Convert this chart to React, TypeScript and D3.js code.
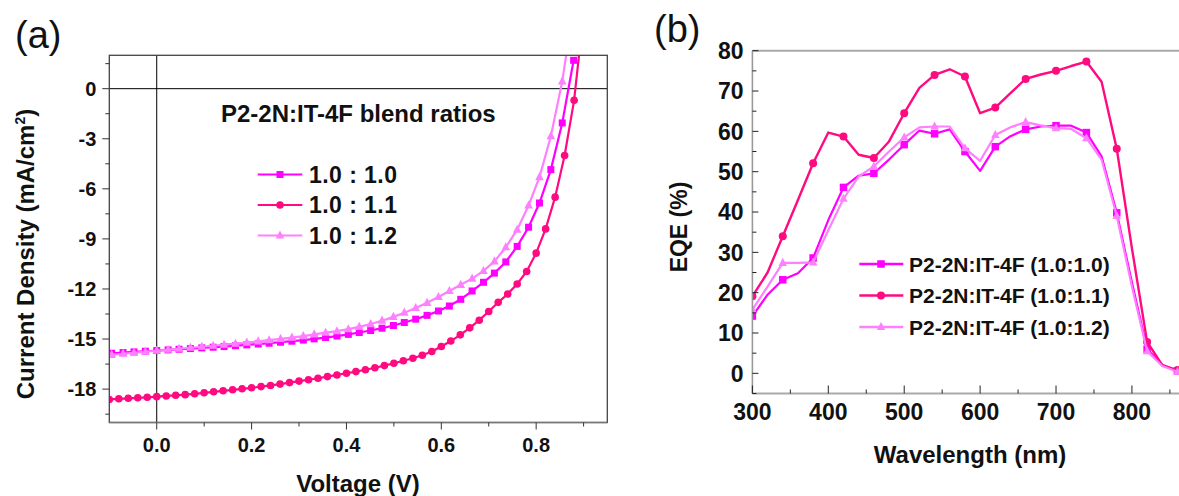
import React from "react";
import * as d3 from "d3";

// ---------------- Panel (a): J–V curves ----------------
const V_11 = [-0.10,-0.08,-0.06,-0.04,-0.02,0.00,0.02,0.04,0.06,0.08,0.10,0.12,0.14,0.16,0.18,0.20,0.22,0.24,0.26,0.28,0.30,0.32,0.34,0.36,0.38,0.40,0.42,0.44,0.46,0.48,0.50,0.52,0.54,0.56,0.58,0.60,0.62,0.64,0.66,0.68,0.70,0.72,0.74,0.76,0.78,0.80,0.82,0.84,0.86,0.88,0.90];
const J_11 = [-18.62,-18.58,-18.55,-18.52,-18.49,-18.45,-18.41,-18.37,-18.33,-18.28,-18.22,-18.16,-18.10,-18.04,-17.98,-17.92,-17.85,-17.78,-17.70,-17.61,-17.52,-17.44,-17.35,-17.25,-17.15,-17.05,-16.95,-16.84,-16.72,-16.59,-16.45,-16.30,-16.15,-15.97,-15.75,-15.45,-15.12,-14.75,-14.33,-13.87,-13.35,-12.80,-12.30,-11.70,-10.95,-9.85,-8.40,-6.50,-4.00,-0.70,4.50];

const V_10 = [-0.095,-0.071,-0.048,-0.024,0.000,0.024,0.047,0.071,0.095,0.119,0.142,0.166,0.190,0.214,0.237,0.261,0.285,0.309,0.332,0.356,0.380,0.404,0.427,0.451,0.475,0.499,0.522,0.546,0.570,0.594,0.617,0.641,0.665,0.689,0.712,0.736,0.760,0.784,0.807,0.831,0.855,0.879];
const J_10 = [-15.85,-15.81,-15.77,-15.73,-15.69,-15.65,-15.61,-15.57,-15.53,-15.49,-15.45,-15.40,-15.35,-15.30,-15.25,-15.19,-15.13,-15.06,-14.99,-14.91,-14.82,-14.72,-14.61,-14.49,-14.35,-14.19,-14.01,-13.81,-13.58,-13.32,-13.02,-12.62,-12.12,-11.60,-11.05,-10.38,-9.45,-8.30,-6.85,-4.85,-2.05,1.70];

const V_12 = V_10;
const J_12 = [-15.95,-15.88,-15.82,-15.76,-15.70,-15.64,-15.58,-15.52,-15.46,-15.40,-15.34,-15.28,-15.21,-15.14,-15.07,-14.99,-14.91,-14.82,-14.72,-14.62,-14.53,-14.41,-14.27,-14.10,-13.90,-13.67,-13.42,-13.14,-12.83,-12.48,-12.12,-11.75,-11.38,-10.92,-10.35,-9.50,-8.45,-7.00,-5.30,-2.85,0.44,5.00];

const A_XTICKS = [0.0, 0.2, 0.4, 0.6, 0.8];
const A_XMINOR = [0.1, 0.3, 0.5, 0.7, 0.9];
const A_YTICKS = [0, -3, -6, -9, -12, -15, -18];
const A_YMINOR = [1.5, -1.5, -4.5, -7.5, -10.5, -13.5, -16.5, -19.5];
const A_LEGEND = ["1.0 : 1.0", "1.0 : 1.1", "1.0 : 1.2"];

// ---------------- Panel (b): EQE ----------------
const WL = [300,320,340,360,380,400,420,440,460,480,500,520,540,560,580,600,620,640,660,680,700,720,740,760,780,800,820,840,860];
const EQE_10 = [14.2,19.5,23.2,24.8,28.6,38.0,46.1,49.0,49.6,53.0,56.7,60.2,59.4,60.5,55.0,50.2,56.2,58.8,60.5,61.2,61.4,61.4,59.7,53.8,39.8,22.5,6.0,2.1,0.6];
const EQE_11 = [19.1,25.0,34.0,43.0,52.1,59.7,58.7,54.2,53.4,57.5,64.5,70.8,74.0,75.4,73.6,64.5,65.9,69.5,73.0,74.1,75.0,76.2,77.3,72.3,55.7,31.0,7.8,2.0,0.8];
const EQE_12 = [15.8,21.5,27.4,27.4,27.5,35.5,43.3,48.8,51.3,55.0,58.5,61.0,61.2,61.2,55.8,52.7,59.1,61.0,62.3,61.5,60.8,60.6,58.3,53.0,39.0,21.5,5.5,1.8,0.4];
const B_XTICKS = [300, 400, 500, 600, 700, 800];
const B_XMINOR = [350, 450, 550, 650, 750, 850];
const B_YTICKS = [0, 10, 20, 30, 40, 50, 60, 70, 80];
const B_YMINOR = [-5, 5, 15, 25, 35, 45, 55, 65, 75];
const B_LEGEND = ["P2-2N:IT-4F (1.0:1.0)", "P2-2N:IT-4F (1.0:1.1)", "P2-2N:IT-4F (1.0:1.2)"];

const C_MAG = "#ff00ff";
const C_RED = "#ff0a80";
const C_LIGHT = "#ff80ff";
const FONT = "'Liberation Sans', Arial, Helvetica, sans-serif";

type MType = "square" | "circle" | "triangle";

function Marker({ type, x, y, s, color }: { type: MType; x: number; y: number; s: number; color: string }) {
  if (type === "square") return <rect x={x - s / 2} y={y - s / 2} width={s} height={s} fill={color} />;
  if (type === "circle") return <circle cx={x} cy={y} r={s / 2} fill={color} />;
  const h = s * 0.95;
  return (
    <polygon
      points={`${x},${y - h * 0.62} ${x - s / 2},${y + h * 0.38} ${x + s / 2},${y + h * 0.38}`}
      fill={color}
    />
  );
}

export default function App() {
  // Panel (a) scales
  const ax0 = 109.3, ax1 = 607.3, ay0 = 55.3, ay1 = 422.5;
  const xa = d3.scaleLinear().domain([-0.1, 0.95]).range([ax0, ax1]);
  const ya = d3.scaleLinear().domain([-20, 2]).range([ay1, ay0]);
  const lineA = d3.line<[number, number]>().x((d) => xa(d[0])).y((d) => ya(d[1]));

  // Panel (b) scales
  const bx0 = 752.4, bx1 = 1179, by0 = 50.7, by1 = 393.5;
  const xb = d3.scaleLinear().domain([300, 862]).range([bx0, bx1]);
  const yb = d3.scaleLinear().domain([-5, 80]).range([by1, by0]);
  const lineB = d3.line<[number, number]>().x((d) => xb(d[0])).y((d) => yb(d[1]));

  const seriesA = [
    { v: V_10, j: J_10, color: C_MAG, type: "square" as MType, s: 7 },
    { v: V_11, j: J_11, color: C_RED, type: "circle" as MType, s: 7.6 },
    { v: V_12, j: J_12, color: C_LIGHT, type: "triangle" as MType, s: 8.6 },
  ];
  const seriesB = [
    { y: EQE_10, color: C_MAG, type: "square" as MType, s: 7.5, w: 2.2 },
    { y: EQE_11, color: C_RED, type: "circle" as MType, s: 8, w: 2.4 },
    { y: EQE_12, color: C_LIGHT, type: "triangle" as MType, s: 8.5, w: 2.2 },
  ];

  const legA = [174.5, 205, 235.5];
  const legB = [264, 295.5, 327];

  return (
    <svg
      width={1179}
      height={496}
      style={{ position: "absolute", left: 0, top: 0, background: "#fff" }}
      fontFamily={FONT}
    >
      <defs>
        <clipPath id="clipA">
          <rect x={ax0} y={ay0} width={ax1 - ax0} height={ay1 - ay0} />
        </clipPath>
        <clipPath id="clipB">
          <rect x={bx0} y={by0} width={bx1 - bx0} height={by1 - by0} />
        </clipPath>
      </defs>
      <rect x={0} y={0} width={1179} height={496} fill="#fff" />

      {/* ================= Panel (a) ================= */}
      <text x={15} y={48} fontSize={38} fill="#111">(a)</text>

      {/* zero lines */}
      <line x1={ax0} x2={ax1} y1={ya(0)} y2={ya(0)} stroke="#000" strokeWidth={1} />
      <line x1={xa(0)} x2={xa(0)} y1={ay0} y2={ay1} stroke="#000" strokeWidth={1} />

      {/* data */}
      <g clipPath="url(#clipA)">
        {seriesA.map((s, i) => {
          const pts = s.v.map((v, k) => [v, s.j[k]] as [number, number]);
          return (
            <g key={i}>
              <path d={lineA(pts) || ""} fill="none" stroke={s.color} strokeWidth={2.2} />
              {pts.map((p, k) => (
                <Marker key={k} type={s.type} x={xa(p[0])} y={ya(p[1])} s={s.s} color={s.color} />
              ))}
            </g>
          );
        })}
      </g>

      {/* frame */}
      <rect x={ax0} y={ay0} width={ax1 - ax0} height={ay1 - ay0} fill="none" stroke="#444" strokeWidth={1.3} />
      <line x1={ax0} x2={ax1} y1={ay1} y2={ay1} stroke="#777" strokeWidth={1.5} />

      {/* y ticks */}
      {A_YTICKS.map((t) => (
        <g key={t}>
          <line x1={ax0 - 7} x2={ax0} y1={ya(t)} y2={ya(t)} stroke="#333" strokeWidth={1} />
          <text x={ax0 - 13} y={ya(t)} dy="0.36em" textAnchor="end" fontSize={20} fontWeight="bold" fill="#111">
            {t}
          </text>
        </g>
      ))}
      {A_YMINOR.map((t) => (
        <line key={t} x1={ax0 - 4} x2={ax0} y1={ya(t)} y2={ya(t)} stroke="#333" strokeWidth={1} />
      ))}
      {/* x ticks */}
      {A_XTICKS.map((t) => (
        <g key={t}>
          <line x1={xa(t)} x2={xa(t)} y1={ay1} y2={ay1 + 7} stroke="#333" strokeWidth={1} />
          <text x={xa(t)} y={452} textAnchor="middle" fontSize={20} fontWeight="bold" fill="#111">
            {d3.format(".1f")(t)}
          </text>
        </g>
      ))}
      {A_XMINOR.map((t) => (
        <line key={t} x1={xa(t)} x2={xa(t)} y1={ay1} y2={ay1 + 4} stroke="#333" strokeWidth={1} />
      ))}

      {/* axis titles */}
      <text x={358} y={492} textAnchor="middle" fontSize={24} fontWeight="bold" fill="#111">
        Voltage (V)
      </text>
      <text
        transform="translate(34,254) rotate(-90)"
        textAnchor="middle"
        fontSize={24}
        fontWeight="bold"
        fill="#111"
      >
        Current Density (mA/cm<tspan fontSize={14} dy={-9}>2</tspan><tspan dy={9}>)</tspan>
      </text>

      {/* legend a */}
      <text x={221} y={122.3} fontSize={24} fontWeight="bold" fill="#111">
        P2-2N:IT-4F blend ratios
      </text>
      {seriesA.map((s, i) => (
        <g key={i}>
          <line x1={257.7} x2={302.3} y1={legA[i]} y2={legA[i]} stroke={s.color} strokeWidth={2.2} />
          <Marker type={s.type} x={280} y={legA[i]} s={s.s} color={s.color} />
          <text x={309} y={legA[i] + 8.3} fontSize={23} fontWeight="bold" fill="#111" textLength={88} lengthAdjust="spacing">
            {A_LEGEND[i]}
          </text>
        </g>
      ))}

      {/* ================= Panel (b) ================= */}
      <text x={654} y={42} fontSize={38} fill="#111">(b)</text>

      <g clipPath="url(#clipB)">
        {seriesB.map((s, i) => {
          const pts = WL.map((w, k) => [w, s.y[k]] as [number, number]);
          return (
            <g key={i}>
              <path d={lineB(pts) || ""} fill="none" stroke={s.color} strokeWidth={s.w} strokeLinejoin="round" />
              {pts
                .filter((p) => (p[0] - 300) % 40 === 0)
                .map((p, k) => (
                  <Marker key={k} type={s.type} x={xb(p[0])} y={yb(p[1])} s={s.s} color={s.color} />
                ))}
            </g>
          );
        })}
      </g>

      {/* frame b */}
      <line x1={bx0} x2={bx1} y1={by0} y2={by0} stroke="#aaa" strokeWidth={2} />
      <line x1={bx0} x2={bx0} y1={by0} y2={by1} stroke="#999" strokeWidth={1.6} />
      <line x1={bx0} x2={bx1} y1={by1} y2={by1} stroke="#aaa" strokeWidth={2} />

      {B_YTICKS.map((t) => (
        <g key={t}>
          <line x1={bx0} x2={bx0 + 6} y1={yb(t)} y2={yb(t)} stroke="#222" strokeWidth={1} />
          <text x={743.5} y={yb(t)} dy="0.36em" textAnchor="end" fontSize={23} fontWeight="bold" fill="#111">
            {t}
          </text>
        </g>
      ))}
      {B_YMINOR.map((t) => (
        <line key={t} x1={bx0} x2={bx0 + 4} y1={yb(t)} y2={yb(t)} stroke="#222" strokeWidth={1} />
      ))}
      {B_XTICKS.map((t) => (
        <g key={t}>
          <line x1={xb(t)} x2={xb(t)} y1={by1} y2={by1 - 8} stroke="#222" strokeWidth={1} />
          <text x={xb(t)} y={420} textAnchor="middle" fontSize={23} fontWeight="bold" fill="#111">
            {t}
          </text>
        </g>
      ))}
      {B_XMINOR.map((t) => (
        <line key={t} x1={xb(t)} x2={xb(t)} y1={by1} y2={by1 - 4} stroke="#222" strokeWidth={1} />
      ))}

      <text x={970} y={463} textAnchor="middle" fontSize={24} fontWeight="bold" fill="#111">
        Wavelength (nm)
      </text>
      <text transform="translate(687,227) rotate(-90)" textAnchor="middle" fontSize={23} fontWeight="bold" fill="#111">
        EQE (%)
      </text>

      {/* legend b */}
      {seriesB.map((s, i) => (
        <g key={i}>
          <line x1={859.3} x2={903.3} y1={legB[i]} y2={legB[i]} stroke={s.color} strokeWidth={2.4} />
          <Marker type={s.type} x={881} y={legB[i]} s={s.s} color={s.color} />
          <text x={909} y={legB[i] + 7.6} fontSize={21} fontWeight="bold" fill="#111">
            {B_LEGEND[i]}
          </text>
        </g>
      ))}
    </svg>
  );
}
